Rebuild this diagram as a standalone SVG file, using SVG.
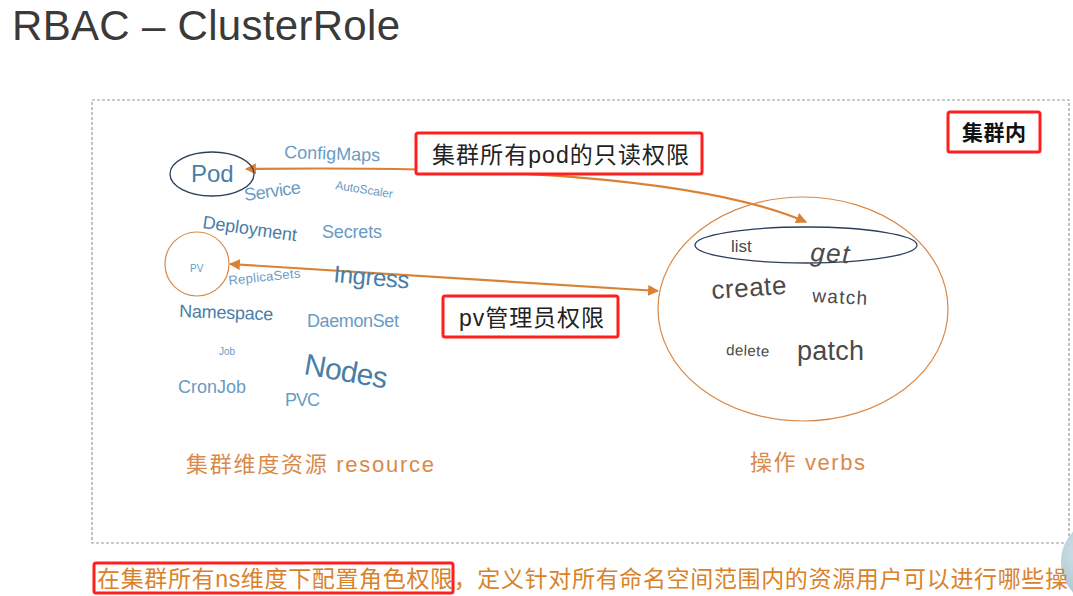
<svg xmlns="http://www.w3.org/2000/svg" width="1073" height="596" viewBox="0 0 1073 596">
<defs>
<style>
.cjk{font-family:"Liberation Sans","Noto Sans CJK SC",sans-serif}
.res{font-family:"Liberation Sans",sans-serif;fill:#6a9bc3}
.resd{font-family:"Liberation Sans",sans-serif;fill:#4a7ea6}
.verb{font-family:"Liberation Sans",sans-serif;fill:#4a4a4a}
.redbox{fill:#fff;stroke:#ff1f1f;stroke-width:3}
.conn{fill:none;stroke:#d98235;stroke-width:2.2}
.orange{fill:#d98a4a}
</style>
<marker id="ah" viewBox="0 0 10 10" refX="9" refY="5" markerWidth="5" markerHeight="5" orient="auto-start-reverse" markerUnits="strokeWidth">
<path d="M0,0 L10,5 L0,10 z" fill="#d98235"/>
</marker>
<radialGradient id="ball" cx="0.3" cy="0.4" r="0.8">
<stop offset="0" stop-color="#d6e6ea"/>
<stop offset="1" stop-color="#8fb4c2"/>
</radialGradient>
</defs>
<rect width="1073" height="596" fill="#fff"/>
<text x="12" y="40" font-family="Liberation Sans, sans-serif" font-size="42" fill="#3a3a3a" textLength="388">RBAC – ClusterRole</text>
<rect x="92" y="100" width="977" height="443" fill="none" stroke="#999" stroke-width="1.2" stroke-dasharray="3,2"/>

<g id="connectors">
<path class="conn" d="M246,169 C480,166 700,176 806,222" marker-start="url(#ah)" marker-end="url(#ah)"/>
<path class="conn" d="M230,264 L658,291" marker-start="url(#ah)" marker-end="url(#ah)"/>
</g>

<g id="resources">
<text class="res" x="284" y="158" font-size="18" textLength="96" transform="rotate(2 284 158)">ConfigMaps</text>
<text class="res" x="245" y="201" font-size="18" textLength="57" transform="rotate(-8 245 201)">Service</text>
<text class="res" x="335" y="189" font-size="12" textLength="58" transform="rotate(9 335 189)">AutoScaler</text>
<text class="resd" x="202" y="228" font-size="18" textLength="95" transform="rotate(8 202 228)">Deployment</text>
<text class="res" x="322" y="238" font-size="18" textLength="60">Secrets</text>
<text class="res" x="229" y="285" font-size="13" textLength="72" transform="rotate(-6 229 285)">ReplicaSets</text>
<text class="resd" x="333" y="282" font-size="24" textLength="76" transform="rotate(5 333 282)">Ingress</text>
<text class="resd" x="179" y="317" font-size="18" textLength="94" transform="rotate(2 179 317)">Namespace</text>
<text class="res" x="307" y="327" font-size="18" textLength="92">DaemonSet</text>
<text class="res" x="219" y="355" font-size="10">Job</text>
<text class="resd" x="303" y="374" font-size="30" textLength="84" transform="rotate(10 303 374)">Nodes</text>
<text class="res" x="178" y="393" font-size="18" textLength="68">CronJob</text>
<text class="res" x="285" y="406" font-size="18" textLength="35">PVC</text>
</g>

<g id="pod">
<ellipse cx="212" cy="174" rx="42" ry="22" fill="none" stroke="#2c3e5c" stroke-width="1.3"/>
<text class="resd" x="191" y="182" font-size="24">Pod</text>
</g>

<g id="pv">
<circle cx="197" cy="264" r="32" fill="none" stroke="#d98a4a" stroke-width="1.2"/>
<text class="res" x="190" y="272" font-size="10">PV</text>
</g>

<g id="verbs">
<ellipse cx="803" cy="309" rx="145" ry="112" fill="none" stroke="#d98a4a" stroke-width="1.2"/>
<ellipse cx="806" cy="245" rx="111" ry="18" fill="none" stroke="#2c3e5c" stroke-width="1.3"/>
<text class="verb" x="731" y="252" font-size="17">list</text>
<text class="verb" x="810" y="261" font-size="26" font-style="italic" textLength="39" transform="rotate(3 810 261)">get</text>
<text class="verb" x="712" y="299" font-size="26" textLength="75" transform="rotate(-4 712 299)">create</text>
<text class="verb" x="812" y="302" font-size="19" textLength="55" transform="rotate(3 812 302)">watch</text>
<text class="verb" x="726" y="355" font-size="15" textLength="43" transform="rotate(2 726 355)">delete</text>
<text class="verb" x="797" y="360" font-size="27" textLength="67">patch</text>
</g>

<g id="label-pod">
<rect class="redbox" x="416" y="133" width="286" height="41" rx="2"/>
<text class="cjk" x="432" y="163" font-size="23" fill="#222" textLength="257">集群所有pod的只读权限</text>
</g>

<g id="label-pv">
<rect class="redbox" x="443" y="296" width="175" height="41" rx="2"/>
<text class="cjk" x="459" y="326" font-size="23" fill="#222" textLength="145">pv管理员权限</text>
</g>

<g id="label-cluster">
<rect class="redbox" x="948" y="112" width="92" height="40" rx="2"/>
<text class="cjk" x="962" y="140" font-size="21" font-weight="bold" fill="#111" textLength="64">集群内</text>
</g>

<g id="captions">
<text class="cjk orange" x="186" y="472" font-size="22" textLength="248">集群维度资源 resource</text>
<text class="cjk orange" x="750" y="470" font-size="22" textLength="115">操作 verbs</text>
</g>

<g id="footer">
<circle cx="1106" cy="562" r="45" fill="url(#ball)"/>
<rect x="94" y="563" width="359" height="30" fill="none" stroke="#ff1f1f" stroke-width="3" rx="2"/>
<text class="cjk" x="97" y="587" font-size="23" fill="#d9822b" textLength="971">在集群所有ns维度下配置角色权限，定义针对所有命名空间范围内的资源用户可以进行哪些操</text>
</g>
</svg>
